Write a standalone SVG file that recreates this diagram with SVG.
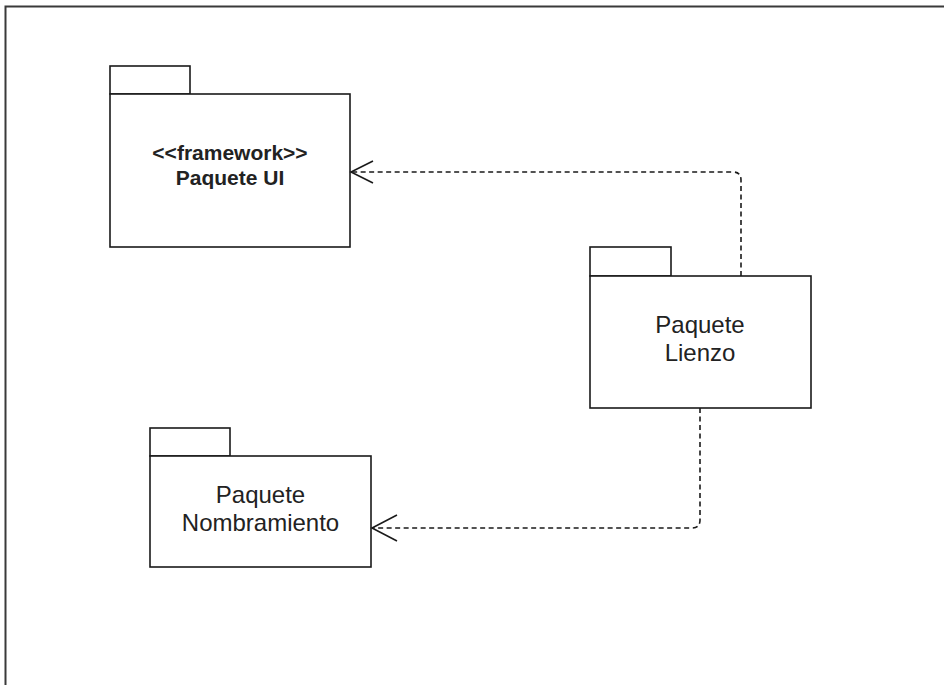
<svg xmlns="http://www.w3.org/2000/svg" width="944" height="685" viewBox="0 0 944 685">
<style>
.pkg{fill:#fff;stroke:#1a1a1a;stroke-width:1.6}
.lbl{font-family:"Liberation Sans",Arial,sans-serif;font-size:24px;fill:#222;text-anchor:middle}
.bold{font-weight:bold;font-size:21px}
.dep{fill:none;stroke:#1a1a1a;stroke-width:1.6;stroke-dasharray:5 3.5}
.head{fill:none;stroke:#1a1a1a;stroke-width:1.6}
</style>
<rect x="0" y="0" width="944" height="685" fill="#fff"/>
<path d="M5.5,690 V6.5 H950" fill="none" stroke="#3a3a3a" stroke-width="2"/>
<g id="paquete-ui">
<rect class="pkg" x="110" y="66" width="80" height="28"/>
<rect class="pkg" x="110" y="94" width="240" height="153"/>
<text class="lbl bold" x="230" y="160">&lt;&lt;framework&gt;&gt;</text>
<text class="lbl bold" x="230" y="184.5">Paquete UI</text>
</g>
<g id="paquete-lienzo">
<rect class="pkg" x="590" y="247" width="81" height="29"/>
<rect class="pkg" x="590" y="276" width="221" height="132"/>
<text class="lbl" x="700" y="333">Paquete</text>
<text class="lbl" x="700" y="361">Lienzo</text>
</g>
<g id="paquete-nombramiento">
<rect class="pkg" x="150" y="428" width="80" height="28"/>
<rect class="pkg" x="150" y="456" width="221" height="111"/>
<text class="lbl" x="260.5" y="503">Paquete</text>
<text class="lbl" x="260.5" y="531">Nombramiento</text>
</g>
<g id="connectors">
<path class="dep" d="M741,276 V180 Q741,172 733,172 H352"/>
<path class="head" d="M373,161 L351,172 L373,183"/>
<path class="dep" d="M700,408 V520 Q700,528 692,528 H373"/>
<path class="head" d="M397,515 L372,528 L397,541"/>
</g>
</svg>
